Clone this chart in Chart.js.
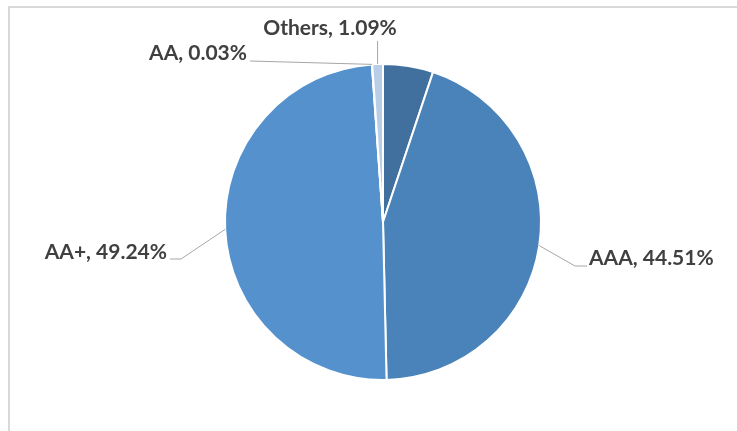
<!DOCTYPE html>
<html>
<head>
<meta charset="utf-8">
<script src="https://cdn.jsdelivr.net/npm/chart.js@4.4.1/dist/chart.umd.min.js"></script>
<style>
  html, body { margin: 0; padding: 0; background: #ffffff; }
  #wrap { position: relative; width: 737px; height: 431px; }
</style>
</head>
<body>
<div id="wrap"><canvas id="c" width="737" height="431"></canvas></div>
<script>
// ---- data ----
const categories = ['', 'AAA', 'AA+', 'AA', 'Others'];
const shares = [5.13, 44.51, 49.24, 0.03, 1.09];
const sliceColors = ['#41709F', '#4A83B9', '#5592CD', '#5592CD', '#B8CEE8'];

function labelText(i) {
  return categories[i] + ', ' + shares[i].toFixed(2) + '%';
}

// leader-line / label layout (positions only, values come from the arrays above)
const labelLayout = [
  { index: 4, path: [[null, 41]], text: [330, 35], align: 'center' },
  { index: 3, path: [[250, 61]], text: [247, 60], align: 'right' },
  { index: 1, path: [[575, 266], [587, 266]], text: [589, 265], align: 'left' },
  { index: 2, path: [[181, 259], [170, 259]], text: [167, 259], align: 'right' }
];

const framePlugin = {
  id: 'frame',
  beforeDraw(chart) {
    const ctx = chart.ctx;
    ctx.save();
    ctx.strokeStyle = '#d9d9d9';
    ctx.lineWidth = 2;
    ctx.beginPath();
    ctx.moveTo(737, 7);
    ctx.lineTo(9, 7);
    ctx.lineTo(9, 431);
    ctx.stroke();
    ctx.restore();
  }
};

const leaderPlugin = {
  id: 'leaders',
  afterDatasetsDraw(chart) {
    const meta = chart.getDatasetMeta(0);
    const ctx = chart.ctx;
    ctx.save();
    labelLayout.forEach(it => {
      const arc = meta.data[it.index];
      const p = arc.getProps(['x', 'y', 'startAngle', 'endAngle', 'outerRadius'], true);
      const mid = (p.startAngle + p.endAngle) / 2;
      const px = p.x + Math.cos(mid) * p.outerRadius;
      const py = p.y + Math.sin(mid) * p.outerRadius;
      ctx.strokeStyle = '#a6a6a6';
      ctx.lineWidth = 1;
      ctx.beginPath();
      ctx.moveTo(px, py);
      it.path.forEach(pt => ctx.lineTo(pt[0] === null ? px : pt[0], pt[1]));
      ctx.stroke();
      ctx.fillStyle = '#404040';
      ctx.font = 'bold 21px Lato';
      ctx.textAlign = it.align;
      ctx.textBaseline = 'alphabetic';
      ctx.fillText(labelText(it.index), it.text[0], it.text[1]);
    });
    ctx.restore();
  }
};

new Chart(document.getElementById('c'), {
  type: 'pie',
  data: {
    labels: categories,
    datasets: [{
      data: shares,
      backgroundColor: sliceColors,
      borderColor: '#ffffff',
      borderWidth: 2
    }]
  },
  options: {
    responsive: false,
    animation: false,
    devicePixelRatio: 1,
    layout: { padding: { left: 200, right: 171, top: 63, bottom: 50 } },
    plugins: {
      legend: { display: false },
      tooltip: { enabled: false },
      title: { display: false }
    },
    events: []
  },
  plugins: [framePlugin, leaderPlugin]
});
</script>
</body>
</html>
